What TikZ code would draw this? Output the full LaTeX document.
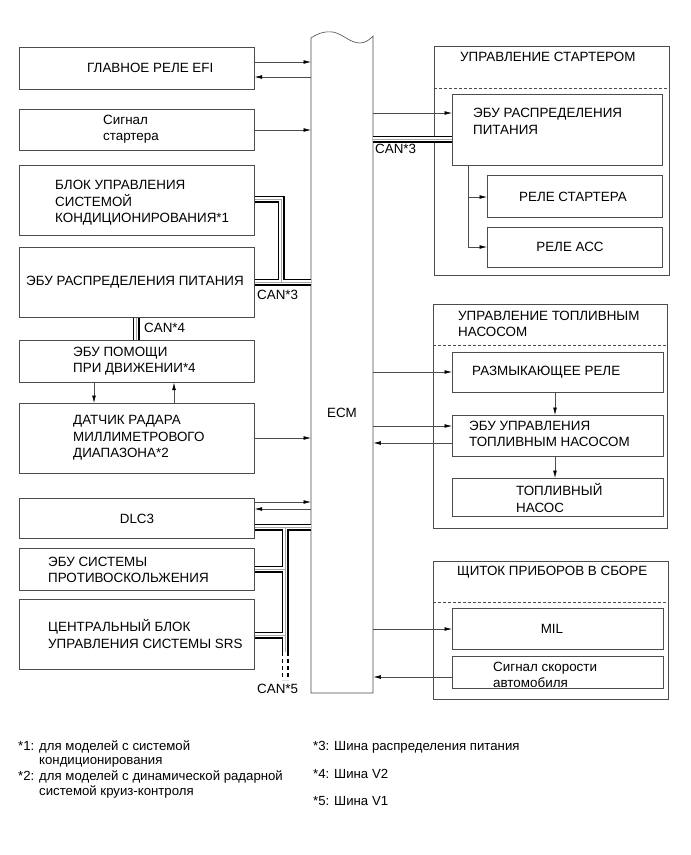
\documentclass[tikz,border=0pt]{standalone}
\usepackage{fontspec}
\setmainfont{Liberation Sans}
\usetikzlibrary{arrows.meta}
\newcommand\mybox[5]{\node[bx,anchor=north west,minimum width={#4pt-#2pt},minimum height={#5pt-#3pt}] (#1) at (#2,#3) {};}
\newcommand\canbus[1]{\draw[line width=7pt,black] #1; \draw[line width=3.6pt,white] #1; \draw[line width=0.5pt,black!35] #1;}
\begin{document}
\begin{tikzpicture}[x=1pt,y=-1pt,
  bx/.style={draw=black!70, line width=0.6pt, inner sep=0pt},
  txt/.style={font=\fontsize{13.4}{16.5}\selectfont, align=left, inner sep=0pt, anchor=west},
  ctxt/.style={font=\fontsize{13.4}{16.5}\selectfont, align=center, inner sep=0pt},
  fn/.style={font=\fontsize{13.2}{15}\selectfont, inner sep=0pt, anchor=west},
  ar/.style={draw=black!70, line width=0.6pt, -{Latex[length=7.5pt,width=3.8pt,color=black]}},
  dl/.style={draw=black!70, line width=0.6pt, dash pattern=on 3pt off 2pt}]
\useasboundingbox (0,0) rectangle (691,855);
\fill[white] (0,0) rectangle (691,855);

% ECM
\node[inner sep=0pt,minimum width=62pt,minimum height=655pt,anchor=north west] (ecm) at (311,38) {};
\draw[bx] (311,693) -- (311,38) .. controls (318,33) and (326,31) .. (333,32)
  .. controls (343,34) and (350,43) .. (360,43) .. controls (366,43) and (370,39) .. (373,36)
  -- (373,693) -- cycle;
\node[ctxt] (tecm) at (342,413) {ECM};

% left boxes
\mybox{b1}{19}{47}{254}{89}
\mybox{b2}{19}{109}{254}{150}
\mybox{b3}{19}{165}{254}{235}
\mybox{b4}{19}{247}{254}{317}
\mybox{b5}{19}{340}{254}{382}
\mybox{b6}{19}{403}{254}{473}
\mybox{b7}{19}{498}{254}{538}
\mybox{b8}{19}{548}{254}{590}
\mybox{b9}{19}{599}{254}{669}
\node[txt] (t1) at (87,68) {ГЛАВНОЕ РЕЛЕ EFI};
\node[txt] (t2) at (103,129) {Сигнал\\стартера};
\node[txt] (t3) at (55,203) {БЛОК УПРАВЛЕНИЯ\\СИСТЕМОЙ\\КОНДИЦИОНИРОВАНИЯ*1};
\node[txt] (t4) at (26,282) {ЭБУ РАСПРЕДЕЛЕНИЯ ПИТАНИЯ};
\node[txt] (t5) at (73,361) {ЭБУ ПОМОЩИ\\ПРИ ДВИЖЕНИИ*4};
\node[txt] (t6) at (73,438) {ДАТЧИК РАДАРА\\МИЛЛИМЕТРОВОГО\\ДИАПАЗОНА*2};
\node[ctxt] (t7) at (137,519) {DLC3};
\node[txt] (t8) at (48,570) {ЭБУ СИСТЕМЫ\\ПРОТИВОСКОЛЬЖЕНИЯ};
\node[txt] (t9) at (48,634) {ЦЕНТРАЛЬНЫЙ БЛОК\\УПРАВЛЕНИЯ СИСТЕМЫ SRS};

% right group 1
\mybox{g1}{434}{46}{669}{275}
\draw[dl] (g1.west |- 0,88) -- (g1.east |- 0,88);
\node[txt] (tg1) at (460,57) {УПРАВЛЕНИЕ СТАРТЕРОМ};
\mybox{s1}{452}{94}{662}{165}
\mybox{s2}{487}{175}{662}{217}
\mybox{s3}{487}{227}{662}{267}
\node[txt] (ts1) at (473,121.5) {ЭБУ РАСПРЕДЕЛЕНИЯ\\ПИТАНИЯ};
\node[ctxt] (ts2) at (573,197) {РЕЛЕ СТАРТЕРА};
\node[ctxt] (ts3) at (570,247) {РЕЛЕ АСС};

% right group 2
\mybox{g2}{433}{304}{667}{528}
\draw[dl] (g2.west |- 0,345) -- (g2.east |- 0,345);
\node[txt] (tg2) at (458,324) {УПРАВЛЕНИЕ ТОПЛИВНЫМ\\НАСОСОМ};
\mybox{f1}{452}{352}{663}{392}
\mybox{f2}{452}{415}{663}{456}
\mybox{f3}{452}{478}{663}{516}
\node[txt] (tf1) at (472,372) {РАЗМЫКАЮЩЕЕ РЕЛЕ};
\node[txt] (tf2) at (469,434) {ЭБУ УПРАВЛЕНИЯ\\ТОПЛИВНЫМ НАСОСОМ};
\node[txt] (tf3) at (516,498) {ТОПЛИВНЫЙ\\НАСОС};

% right group 3
\mybox{g3}{433}{561}{668}{699}
\draw[dl] (g3.west |- 0,602) -- (g3.east |- 0,602);
\node[txt] (tg3) at (457,572) {ЩИТОК ПРИБОРОВ В СБОРЕ};
\mybox{m1}{452}{608}{663}{649}
\mybox{m2}{452}{656}{663}{688}
\node[ctxt] (tm1) at (552,629) {MIL};
\node[txt] (tm2) at (493,675) {Сигнал скорости\\автомобиля};

% arrows left
\draw[ar] (b1.east |- 0,62) -- (ecm.west |- 0,62);
\draw[ar] (ecm.west |- 0,77) -- (b1.east |- 0,77);
\draw[ar] (b2.east |- 0,130) -- (ecm.west |- 0,130);
\draw[ar] (b5.south -| 94,0) -- (b6.north -| 94,0);
\draw[ar] (b6.north -| 174,0) -- (b5.south -| 174,0);
\draw[ar] (b6.east |- 0,438) -- (ecm.west |- 0,438);
\draw[ar] (b7.east |- 0,502) -- (ecm.west |- 0,502);
\draw[ar] (ecm.west |- 0,509) -- (b7.east |- 0,509);

% arrows right
\draw[ar] (ecm.east |- 0,113) -- (s1.west |- 0,113);
\coordinate (j1) at (468,197);
\coordinate (j2) at (468,247);
\draw[draw=black!70, line width=0.6pt] (s1.south -| j1) -- (j2);
\draw[ar] (j1) -- (s2.west |- j1);
\draw[ar] (j2) -- (s3.west |- j2);
\draw[ar] (ecm.east |- 0,372) -- (f1.west |- 0,372);
\draw[ar] (f1.south -| 555,0) -- (f2.north -| 555,0);
\draw[ar] (ecm.east |- 0,426) -- (f2.west |- 0,426);
\draw[ar] (f2.west |- 0,443) -- (ecm.east |- 0,443);
\draw[ar] (f2.south -| 555,0) -- (f3.north -| 555,0);
\draw[ar] (ecm.east |- 0,629) -- (m1.west |- 0,629);
\draw[ar] (m2.west |- 0,677) -- (ecm.east |- 0,677);

% CAN buses
\canbus{(b3.east |- 0,199) -| (281,282) (b4.east |- 0,282) -- (ecm.west |- 0,282)}
\node[txt] (c3a) at (257,295) {CAN*3};
\canbus{(b4.south -| 136,0) -- (b5.north -| 136,0)}
\node[txt] (c4) at (144,328) {CAN*4};
\canbus{(ecm.east |- 0,139) -- (s1.west |- 0,139)}
\node[txt] (c3b) at (375,149) {CAN*3};
\coordinate (d1) at (285,652);
\coordinate (d2) at (285,680);
\draw[line width=7pt,black,dash pattern=on 4pt off 3pt] (d1) -- (d2);
\draw[line width=3.6pt,white] (d1) -- (d2);
\canbus{(b7.east |- 0,527) -- (ecm.west |- 0,527) (285,527) -- (d1) (b8.east |- 0,569) -- (285,569) (b9.east |- 0,635) -- (285,635)}
\node[txt] (c5) at (257,689) {CAN*5};

% footnotes
\node[fn] (n1) at (18,747) {*1: для моделей с системой};
\node[fn] (n1b) at (39,762) {кондиционирования};
\node[fn] (n2) at (18,777) {*2: для моделей с динамической радарной};
\node[fn] (n2b) at (39,792) {системой круиз-контроля};
\node[fn] (n3) at (313,747) {*3: Шина распределения питания};
\node[fn] (n4) at (313,774) {*4: Шина V2};
\node[fn] (n5) at (313,801) {*5: Шина V1};
\end{tikzpicture}
\end{document}
